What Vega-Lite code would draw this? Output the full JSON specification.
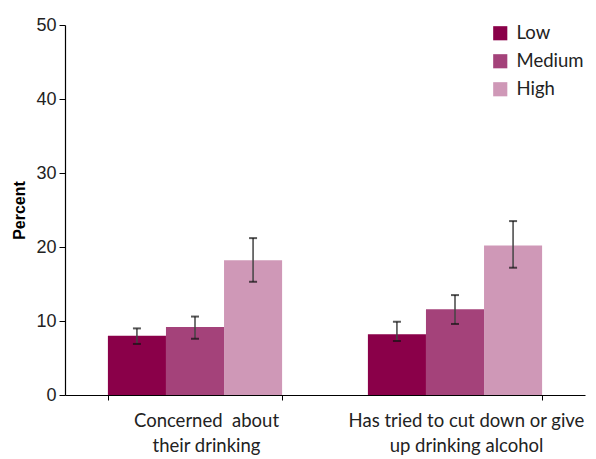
{
  "$schema": "https://vega.github.io/schema/vega-lite/v6.json",
  "width": 520,
  "height": 370,
  "autosize": {"type": "none"},
  "padding": {"left": 65, "top": 25, "right": 11, "bottom": 64},
  "background": "white",
  "config": {"view": {"stroke": null}},
  "data": {
    "values": [
      {"category": "Concerned \u00a0about|their drinking", "level": "Low", "value": 8.0, "lo": 6.9, "hi": 9.0},
      {"category": "Concerned \u00a0about|their drinking", "level": "Medium", "value": 9.2, "lo": 7.6, "hi": 10.6},
      {"category": "Concerned \u00a0about|their drinking", "level": "High", "value": 18.2, "lo": 15.3, "hi": 21.2},
      {"category": "Has tried to cut down or give|up drinking alcohol", "level": "Low", "value": 8.2, "lo": 7.3, "hi": 9.9},
      {"category": "Has tried to cut down or give|up drinking alcohol", "level": "Medium", "value": 11.6, "lo": 9.6, "hi": 13.5},
      {"category": "Has tried to cut down or give|up drinking alcohol", "level": "High", "value": 20.2, "lo": 17.2, "hi": 23.5}
    ]
  },
  "encoding": {
    "x": {
      "field": "category",
      "type": "nominal",
      "sort": null,
      "scale": {"paddingInner": 0.33, "paddingOuter": 0.165},
      "axis": {
        "title": null,
        "labelAngle": 0,
        "labelExpr": "split(datum.label, '|')",
        "labelFont": "Lato",
        "labelFontSize": 18.5,
        "labelColor": "#222",
        "labelLineHeight": 25,
        "labelPadding": 11,
        "labelOffset": 11,
        "labelLimit": 0,
        "tickBand": "extent",
        "tickSize": 5,
        "tickColor": "#000",
        "domainColor": "#000",
        "domainWidth": 1.2
      }
    },
    "xOffset": {
      "field": "level",
      "type": "nominal",
      "sort": ["Low", "Medium", "High"]
    }
  },
  "layer": [
    {
      "mark": {"type": "bar"},
      "encoding": {
        "y": {
          "field": "value",
          "type": "quantitative",
          "scale": {"domain": [0, 50]},
          "axis": {
            "title": "Percent",
            "titleFont": "Liberation Sans",
            "titleFontSize": 16,
            "titleFontWeight": "bold",
            "titleColor": "#000",
            "titlePadding": 8,
            "values": [0, 10, 20, 30, 40, 50],
            "grid": false,
            "labelFont": "Liberation Sans",
            "labelFontSize": 18,
            "labelColor": "#222",
            "labelPadding": 3,
            "tickSize": 6,
            "tickColor": "#000",
            "domainColor": "#000",
            "domainWidth": 1.2
          }
        },
        "color": {
          "field": "level",
          "type": "nominal",
          "sort": ["Low", "Medium", "High"],
          "scale": {"domain": ["Low", "Medium", "High"], "range": ["#8A0049", "#A4427A", "#CF98B7"]},
          "legend": {
            "title": null,
            "orient": "none",
            "legendX": 426,
            "legendY": -1,
            "padding": 0,
            "symbolType": "square",
            "symbolSize": 200,
            "symbolStrokeWidth": 0,
            "labelFont": "Lato",
            "labelFontSize": 18.5,
            "labelColor": "#222",
            "labelOffset": 7,
            "rowPadding": 9
          }
        }
      }
    },
    {
      "mark": {"type": "rule", "color": "#444", "strokeWidth": 1.5},
      "encoding": {
        "y": {"field": "lo", "type": "quantitative"},
        "y2": {"field": "hi"}
      }
    },
    {
      "mark": {"type": "tick", "color": "#111", "thickness": 2, "size": 8},
      "encoding": {
        "y": {"field": "lo", "type": "quantitative"}
      }
    },
    {
      "mark": {"type": "tick", "color": "#111", "thickness": 2, "size": 8},
      "encoding": {
        "y": {"field": "hi", "type": "quantitative"}
      }
    }
  ]
}
